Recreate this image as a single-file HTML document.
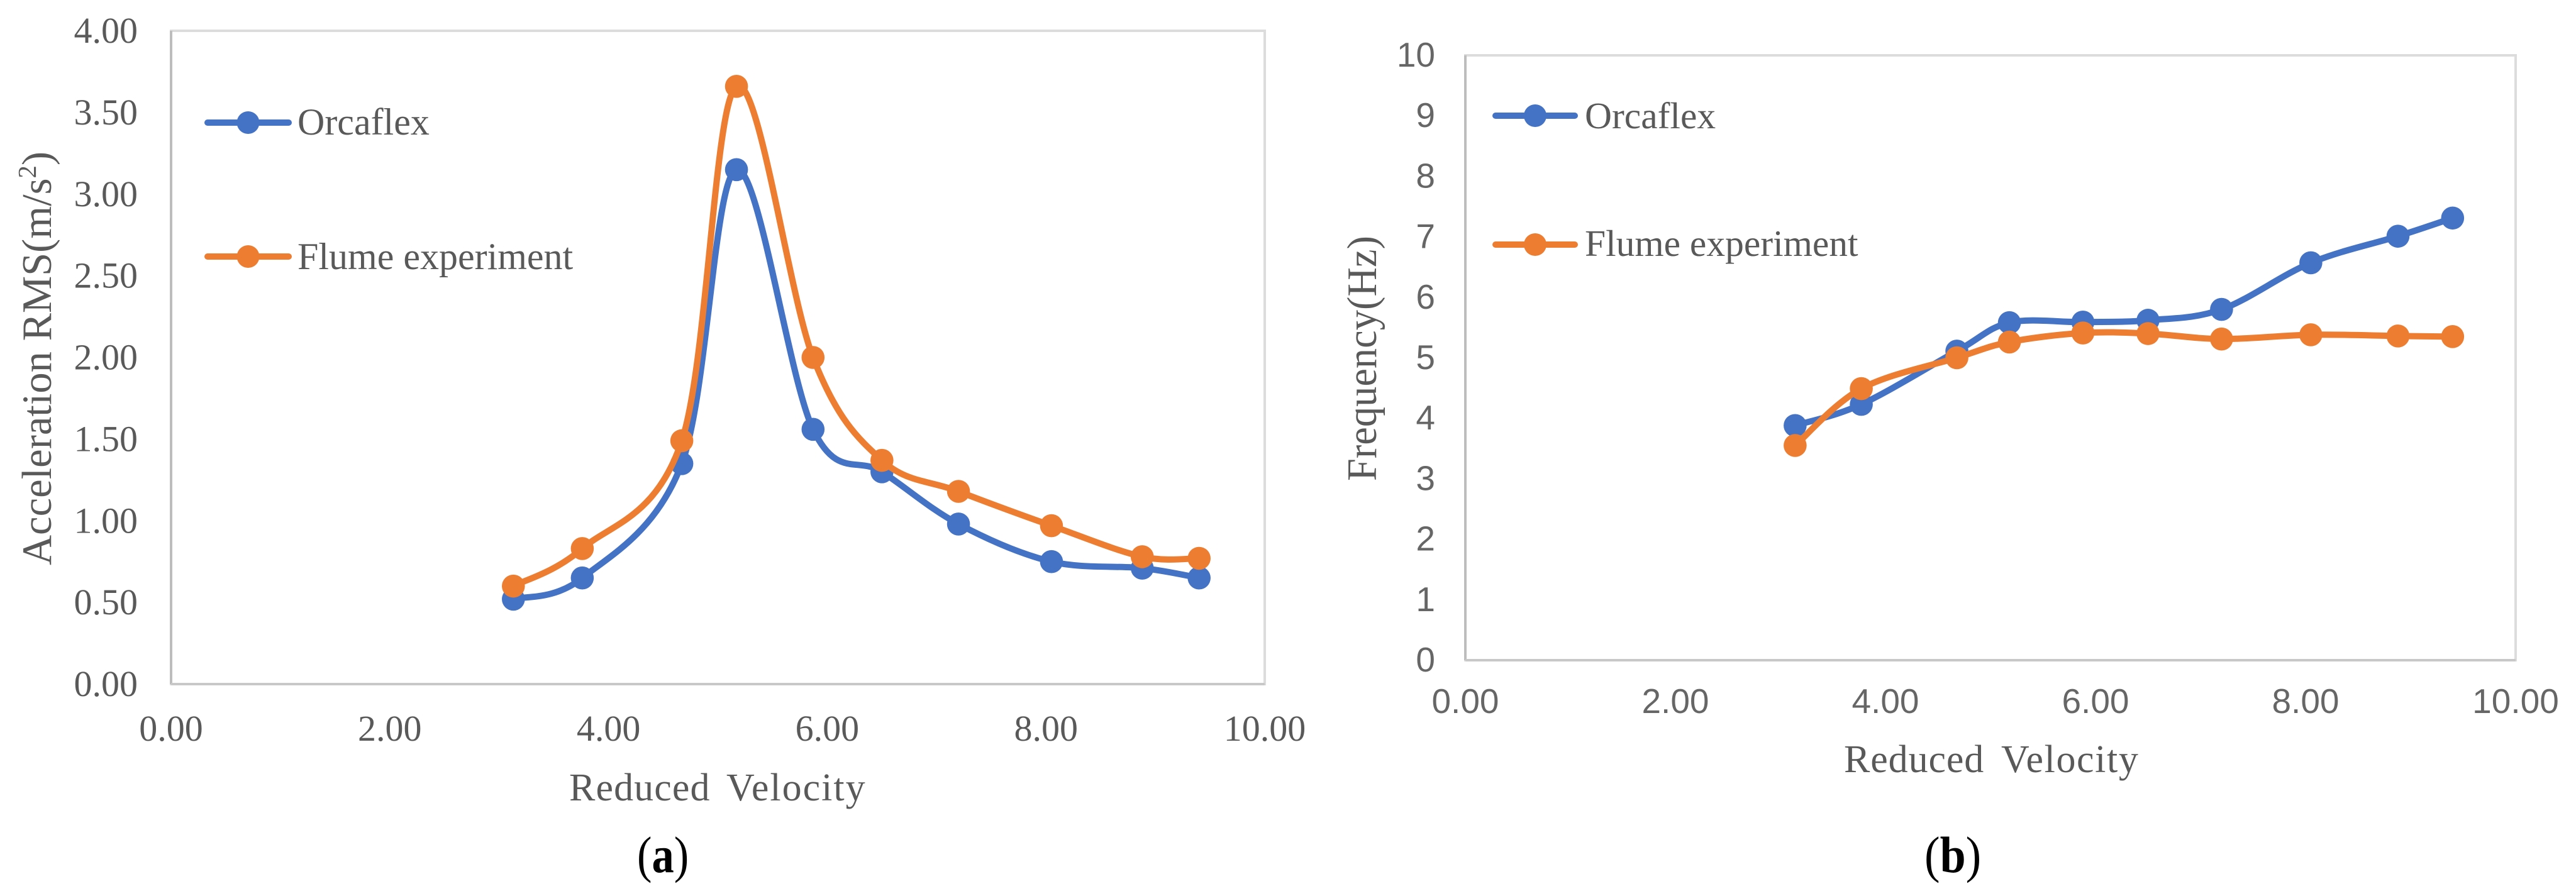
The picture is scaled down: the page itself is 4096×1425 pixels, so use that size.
<!DOCTYPE html>
<html>
<head>
<meta charset="utf-8">
<title>Acceleration RMS and frequency vs reduced velocity</title>
<style>
html,body{margin:0;padding:0;background:#fff;}
svg{display:block;}
text{font-family:"Liberation Serif",serif;fill:#595959;}
.sans{font-family:"Liberation Sans",sans-serif;fill:#666;}
.cap{fill:#000;}
</style>
</head>
<body>
<svg id="figure" xmlns="http://www.w3.org/2000/svg" width="4096" height="1425" viewBox="0 0 4096 1425">
  <rect x="0" y="0" width="4096" height="1425" fill="#fff"/>
  <g id="chart-a">
    <text transform="translate(81,899) rotate(-90)" font-size="67" textLength="658" lengthAdjust="spacingAndGlyphs">Acceleration RMS(m/s<tspan dy="-24" font-size="41">2</tspan><tspan dy="24">)</tspan></text>
    <text y="1273" font-size="62"><tspan x="905" letter-spacing="1.1">Reduced</tspan> <tspan x="1155" letter-spacing="2">Velocity</tspan></text>
    <text class="cap" transform="translate(1013,1387) scale(0.86,1)" font-size="82">(<tspan font-weight="bold">a</tspan>)</text>
  </g>
  <g id="chart-b">
    <text transform="translate(2188,765) rotate(-90)" font-size="67" textLength="390" lengthAdjust="spacingAndGlyphs">Frequency(Hz)</text>
    <text y="1228" font-size="62"><tspan x="2932" letter-spacing="0.9">Reduced</tspan> <tspan x="3182" letter-spacing="1.6">Velocity</tspan></text>
    <text class="cap" transform="translate(3060,1387) scale(0.9,1)" font-size="82">(<tspan font-weight="bold">b</tspan>)</text>
  </g>
</svg>
<script>
const NS = 'http://www.w3.org/2000/svg';
const BLUE = '#4472C4';
const ORANGE = '#ED7D31';

// Chart (a) data
const aVelocity = [3.13, 3.76, 4.67, 5.17, 5.87, 6.50, 7.20, 8.05, 8.88, 9.40];
const aOrcaflex = [0.52, 0.65, 1.35, 3.15, 1.56, 1.30, 0.98, 0.75, 0.71, 0.65];
const aFlume = [0.60, 0.83, 1.49, 3.66, 2.00, 1.37, 1.18, 0.97, 0.78, 0.77];
const aXTicks = ['0.00', '2.00', '4.00', '6.00', '8.00', '10.00'];
const aYTicks = ['0.00', '0.50', '1.00', '1.50', '2.00', '2.50', '3.00', '3.50', '4.00'];

// Chart (b) data
const bVelocity = [3.14, 3.77, 4.68, 5.18, 5.88, 6.50, 7.20, 8.05, 8.88, 9.40];
const bOrcaflex = [3.88, 4.23, 5.11, 5.58, 5.59, 5.62, 5.80, 6.57, 7.01, 7.31];
const bFlume = [3.55, 4.49, 5.00, 5.26, 5.41, 5.40, 5.31, 5.38, 5.36, 5.35];
const bXTicks = ['0.00', '2.00', '4.00', '6.00', '8.00', '10.00'];
const bYTicks = ['0', '1', '2', '3', '4', '5', '6', '7', '8', '9', '10'];

const seriesNames = ['Orcaflex', 'Flume experiment'];

function make(tag, attrs, parent) {
  const el = document.createElementNS(NS, tag);
  for (const k in attrs) el.setAttribute(k, attrs[k]);
  parent.appendChild(el);
  return el;
}

function smoothPath(pts) {
  let d = 'M' + pts[0][0] + ' ' + pts[0][1];
  for (let i = 0; i < pts.length - 1; i++) {
    const p0 = pts[Math.max(i - 1, 0)];
    const p1 = pts[i];
    const p2 = pts[i + 1];
    const p3 = pts[Math.min(i + 2, pts.length - 1)];
    const c1x = p1[0] + (p2[0] - p0[0]) / 6;
    const c1y = p1[1] + (p2[1] - p0[1]) / 6;
    const c2x = p2[0] - (p3[0] - p1[0]) / 6;
    const c2y = p2[1] - (p3[1] - p1[1]) / 6;
    d += ' C' + c1x + ' ' + c1y + ' ' + c2x + ' ' + c2y + ' ' + p2[0] + ' ' + p2[1];
  }
  return d;
}

function drawChart(cfg) {
  const root = document.getElementById(cfg.id);
  const box = cfg.box;
  const xMax = parseFloat(cfg.xTicks[cfg.xTicks.length - 1]);
  const yMax = parseFloat(cfg.yTicks[cfg.yTicks.length - 1]);
  const xScale = function (v) { return box.left + (v / xMax) * (box.right - box.left); };
  const yScale = function (v) { return box.bottom - (v / yMax) * (box.bottom - box.top); };

  const frame = make('rect', {
    x: box.left, y: box.top, width: box.right - box.left, height: box.bottom - box.top,
    fill: 'none', stroke: '#dcdcdc', 'stroke-width': 4
  }, root);
  
  

  const yAxis = make('line', {
    x1: box.left, x2: box.left, y1: box.top, y2: box.bottom, stroke: '#bdbdbd', 'stroke-width': 4
  }, root);
  
  

  const xAxis = make('line', {
    x1: box.left, x2: box.right, y1: box.bottom, y2: box.bottom, stroke: '#c8c8c8', 'stroke-width': 4
  }, root);
  
  

  cfg.xTicks.forEach(function (label) {
    const t = make('text', {
      x: xScale(parseFloat(label)), y: cfg.xTickBaseline, 'text-anchor': 'middle',
      'font-size': cfg.tickSize, class: cfg.tickClass
    }, root);
    
    
    t.textContent = label;
  });

  cfg.yTicks.forEach(function (label) {
    const t = make('text', {
      x: cfg.yTickRight, y: yScale(parseFloat(label)) + cfg.yTickShift, 'text-anchor': 'end',
      'font-size': cfg.tickSize, class: cfg.tickClass
    }, root);
    
    
    t.textContent = label;
  });

  cfg.series.forEach(function (s) {
    const pts = cfg.velocity.map(function (v, i) { return [xScale(v), yScale(s.values[i])]; });
    const line = make('path', {
      d: smoothPath(pts), fill: 'none', stroke: s.color, 'stroke-width': 10,
      'stroke-linecap': 'round', 'stroke-linejoin': 'round'
    }, root);
    
    
    pts.forEach(function (p) {
      const dot = make('circle', { cx: p[0], cy: p[1], r: 18.3, fill: s.color }, root);
      
      
    });
  });

  cfg.legend.forEach(function (row, i) {
    const color = cfg.series[i].color;
    const g = make('g', {}, root);
    
    
    make('line', {
      x1: cfg.legendX1, x2: cfg.legendX2, y1: row.y, y2: row.y, stroke: color,
      'stroke-width': 10, 'stroke-linecap': 'round'
    }, g);
    make('circle', { cx: (cfg.legendX1 + cfg.legendX2) / 2, cy: row.y, r: 18, fill: color }, g);
    const t = make('text', { x: cfg.legendTextX, y: row.baseline, 'font-size': cfg.legendSize }, g);
    t.textContent = seriesNames[i];
  });
}

drawChart({
  id: 'chart-a',
  box: { left: 272, right: 2011, top: 49, bottom: 1088 },
  velocity: aVelocity,
  series: [{ values: aOrcaflex, color: BLUE }, { values: aFlume, color: ORANGE }],
  xTicks: aXTicks, yTicks: aYTicks,
  xTickBaseline: 1178, yTickRight: 219, yTickShift: 19,
  tickSize: 58, tickClass: '',
  legendSize: 60,
  legendX1: 330, legendX2: 459, legendTextX: 473,
  legend: [{ y: 195, baseline: 214 }, { y: 408, baseline: 428 }]
});

drawChart({
  id: 'chart-b',
  box: { left: 2330, right: 4000, top: 88, bottom: 1050 },
  velocity: bVelocity,
  series: [{ values: bOrcaflex, color: BLUE }, { values: bFlume, color: ORANGE }],
  xTicks: bXTicks, yTicks: bYTicks,
  xTickBaseline: 1134, yTickRight: 2282, yTickShift: 18,
  tickSize: 55, tickClass: 'sans',
  legendSize: 59.5,
  legendX1: 2378, legendX2: 2504, legendTextX: 2520,
  legend: [{ y: 184, baseline: 204 }, { y: 389, baseline: 407 }]
});
</script>
</body>
</html>
